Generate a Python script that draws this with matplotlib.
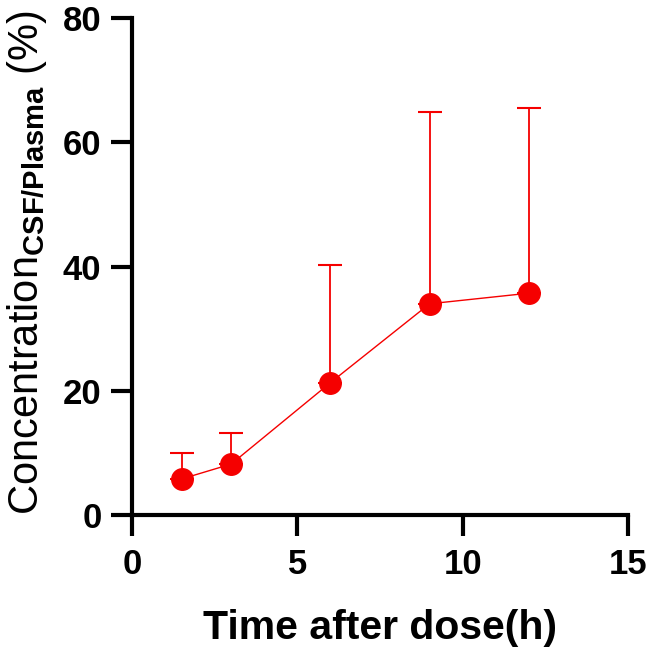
import matplotlib
matplotlib.use("Agg")
import matplotlib.pyplot as plt
import numpy as np

# Data
time_h = [1.5, 3, 6, 9, 12]
ratio_mean = [5.8, 8.2, 21.3, 34.0, 35.7]
ratio_sd = [4.2, 5.0, 18.9, 30.9, 29.8]
x_ticks = [0, 5, 10, 15]
y_ticks = [0, 20, 40, 60, 80]

plt.rcParams['font.family'] = ['Liberation Sans', 'DejaVu Sans']
plt.rcParams['mathtext.fontset'] = 'custom'
plt.rcParams['mathtext.rm'] = 'Liberation Sans'
plt.rcParams['mathtext.bf'] = 'Liberation Sans:bold'
plt.rcParams['mathtext.it'] = 'Liberation Sans:italic'

red = '#f50000'
fig = plt.figure(figsize=(6.5, 6.5), dpi=100)
ax = fig.add_axes([132/650, 1-515/650, 496/650, 497/650])

ax.errorbar(time_h, ratio_mean, yerr=[np.zeros(len(ratio_sd)), ratio_sd],
            fmt='o-', color=red, ecolor=red, lw=1.0, elinewidth=1.3,
            capsize=8.5, capthick=1.5, markersize=15.5, zorder=3, clip_on=False)

ax.set_xlim(0, 15)
ax.set_ylim(0, 80)
ax.set_xticks(x_ticks)
ax.set_yticks(y_ticks)
for s in ['top', 'right']:
    ax.spines[s].set_visible(False)
for s in ['left', 'bottom']:
    ax.spines[s].set_linewidth(3)
ax.tick_params(axis='both', length=15, width=3, direction='out')
ax.tick_params(axis='x', pad=9, labelsize=25)
ax.tick_params(axis='y', pad=7, labelsize=25)
for lab in ax.get_yticklabels() + ax.get_xticklabels():
    lab.set_fontweight('bold')

ax.set_xlabel('Time after dose(h)', fontsize=29.5, fontweight='bold', labelpad=20)
ax.set_ylabel(r'$\mathrm{Concentration}_{\mathbf{CSF/Plasma}}\ \mathrm{(\%)}$', fontsize=30)
ax.yaxis.set_label_coords(-0.168, 0.508)

fig.savefig('out.png', dpi=100)
